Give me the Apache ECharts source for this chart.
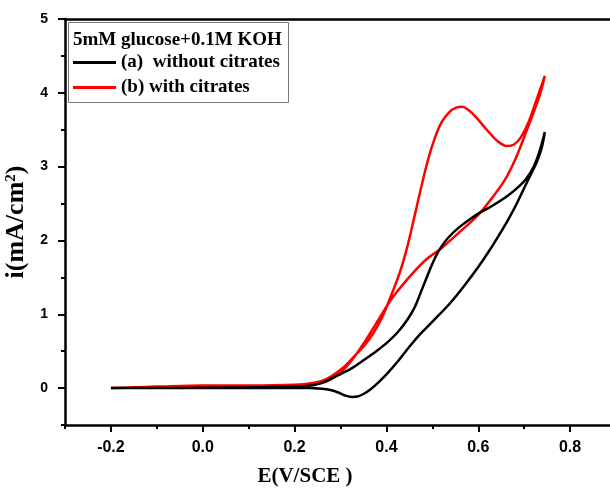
<!DOCTYPE html>
<html>
<head>
<meta charset="utf-8">
<script src="https://cdn.jsdelivr.net/npm/echarts@6/dist/echarts.min.js"></script>
<style>html,body{margin:0;padding:0;background:#fff}#c{width:610px;height:492px}</style>
</head>
<body>
<div id="c"></div>
<script>
// ---- data ----
const seriesNames = ['(a)  without citrates', '(b) with citrates'];
const legendTitle = '5mM glucose+0.1M KOH';

// (a) without citrates : forward scan then reverse scan
const blackE = [-0.2,-0.1,0.0,0.1,0.2,0.24,0.26,0.28,0.30,0.325,0.351,0.38,0.402,0.425,0.446,0.462,0.475,0.486,0.497,0.508,0.519,0.535,0.555,0.578,0.599,0.628,0.665,0.69,0.705,0.72,0.733,0.745,
  0.738,0.728,0.715,0.70,0.684,0.665,0.645,0.625,0.60,0.57,0.54,0.505,0.475,0.45,0.426,0.405,0.385,0.365,0.35,0.337,0.325,0.31,0.295,0.28,0.26,0.23,0.2,0.1,0.0,-0.1,-0.2];
const blackI = [0.0,0.0,0.005,0.01,0.02,0.04,0.07,0.13,0.19,0.27,0.38,0.51,0.62,0.76,0.93,1.1,1.3,1.47,1.64,1.79,1.91,2.04,2.16,2.27,2.36,2.46,2.61,2.74,2.84,2.99,3.2,3.47,
  3.25,3.07,2.9,2.71,2.5,2.28,2.07,1.87,1.64,1.39,1.16,0.93,0.74,0.56,0.37,0.22,0.09,-0.02,-0.08,-0.115,-0.12,-0.1,-0.06,-0.03,-0.01,0.0,0.0,0.0,0.0,0.0,0.0];

// (b) with citrates : forward scan then reverse scan
const redE = [-0.2,-0.15,-0.1,0.0,0.1,0.2,0.24,0.265,0.285,0.31,0.33,0.351,0.37,0.39,0.41,0.43,0.447,0.462,0.475,0.49,0.505,0.52,0.537,0.552,0.565,0.578,0.595,0.62,0.643,0.662,0.678,0.693,0.708,0.726,0.745,
  0.735,0.722,0.70,0.68,0.657,0.628,0.599,0.555,0.519,0.49,0.468,0.445,0.425,0.408,0.39,0.37,0.35,0.33,0.31,0.29,0.27,0.25,0.2,0.1,0.0,-0.1,-0.2];
const redI = [0.0,0.01,0.02,0.035,0.035,0.045,0.07,0.11,0.18,0.3,0.43,0.57,0.73,0.95,1.25,1.58,1.95,2.35,2.7,3.08,3.38,3.6,3.74,3.8,3.81,3.77,3.67,3.49,3.34,3.28,3.3,3.4,3.58,3.89,4.23,
  3.99,3.76,3.40,3.09,2.81,2.56,2.34,2.09,1.89,1.76,1.63,1.47,1.32,1.18,1.0,0.8,0.6,0.42,0.27,0.16,0.09,0.06,0.04,0.03,0.03,0.02,0.0];

// peak annotations
const annotE = [0.562, 0.586];
const annotI = [3.96, 2.54];
const annotText = ['A', 'B'];

// axes
const xMin = -0.3, xMax = 0.9;
const yMin = -0.5, yMax = 5;
const xMajorTicks = [-0.2, 0.0, 0.2, 0.4, 0.6, 0.8];
const xMinorTicks = [-0.3, -0.1, 0.1, 0.3, 0.5, 0.7, 0.9];
const yMajorTicks = [0, 1, 2, 3, 4, 5];
const yMinorTicks = [-0.5, 0.5, 1.5, 2.5, 3.5, 4.5];
const xAxisName = 'E(V/SCE )';

// ---- chart ----
const pairs = (xs, ys) => xs.map((x, i) => [x, ys[i]]);
const serif = 'Liberation Serif, Times New Roman, serif';
const sans = 'Liberation Sans, Arial, sans-serif';

const chart = echarts.init(document.getElementById('c'), null, {renderer: 'canvas'});
chart.setOption({
  animation: false,
  backgroundColor: '#fff',
  grid: {left: 65, right: -6, top: 19, bottom: 67, containLabel: false, outerBoundsMode: 'none'},
  title: {
    text: legendTitle, left: 73, top: 31, padding: 0,
    textStyle: {fontFamily: serif, fontWeight: 'bold', fontSize: 19, color: '#000'}
  },
  legend: {
    data: seriesNames, orient: 'vertical', left: 73, top: 53, padding: 0,
    itemGap: 6, itemWidth: 43, itemHeight: 3, icon: 'rect',
    textStyle: {fontFamily: serif, fontWeight: 'bold', fontSize: 19, color: '#000', lineHeight: 19}
  },
  graphic: [{
    type: 'rect', left: 68, top: 22, z: 3,
    shape: {width: 220, height: 80},
    style: {fill: '#fff', stroke: '#777', lineWidth: 1}
  }],
  xAxis: [{
    type: 'value', min: xMin, max: xMax, position: 'bottom',
    axisLine: {show: true, onZero: false, lineStyle: {color: '#000', width: 2.5}},
    axisTick: {show: true, customValues: xMajorTicks, length: 7, lineStyle: {color: '#000', width: 2}},
    axisLabel: {customValues: xMajorTicks, formatter: v => v.toFixed(1), fontFamily: sans, fontWeight: 'bold', fontSize: 16, color: '#000', margin: 15},
    splitLine: {show: false},
    name: xAxisName, nameLocation: 'middle', nameGap: 41,
    nameTextStyle: {fontFamily: serif, fontWeight: 'bold', fontSize: 21, color: '#000', padding: [0, 71, 0, 0]}
  }, {
    type: 'value', min: xMin, max: xMax, position: 'bottom',
    axisLine: {show: false, onZero: false},
    axisTick: {show: true, customValues: xMinorTicks, length: 4, lineStyle: {color: '#000', width: 2}},
    axisLabel: {show: false}, splitLine: {show: false}
  }, {
    type: 'value', min: xMin, max: xMax, position: 'top',
    axisLine: {show: true, onZero: false, lineStyle: {color: '#000', width: 2.5}},
    axisTick: {show: false}, axisLabel: {show: false}, splitLine: {show: false}
  }],
  yAxis: [{
    type: 'value', min: yMin, max: yMax, position: 'left',
    axisLine: {show: true, onZero: false, lineStyle: {color: '#000', width: 2.5}},
    axisTick: {show: true, customValues: yMajorTicks, length: 7, lineStyle: {color: '#000', width: 2}},
    axisLabel: {customValues: yMajorTicks, fontFamily: sans, fontWeight: 'bold', fontSize: 14, color: '#000', margin: 17},
    splitLine: {show: false},
    name: '{b|i(mA/cm}{s|2}{b|)}', nameLocation: 'middle', nameGap: 29,
    nameTextStyle: {
      rich: {
        b: {fontFamily: serif, fontWeight: 'bold', fontSize: 26, color: '#000'},
        s: {fontFamily: serif, fontWeight: 'bold', fontSize: 15, color: '#000', verticalAlign: 'top'}
      }
    }
  }, {
    type: 'value', min: yMin, max: yMax, position: 'left',
    axisLine: {show: false, onZero: false},
    axisTick: {show: true, customValues: yMinorTicks, length: 4, lineStyle: {color: '#000', width: 2}},
    axisLabel: {show: false}, splitLine: {show: false}
  }],
  series: [{
    name: seriesNames[0], type: 'line', data: pairs(blackE, blackI),
    showSymbol: false, symbol: 'none', smooth: 0.35, z: 3,
    lineStyle: {color: '#000', width: 2.5}, itemStyle: {color: '#000'}
  }, {
    name: seriesNames[1], type: 'line', data: pairs(redE, redI),
    showSymbol: false, symbol: 'none', smooth: 0.35, z: 2,
    lineStyle: {color: '#ff0000', width: 2.5}, itemStyle: {color: '#ff0000'}
  }, {
    name: 'annotations', type: 'scatter', silent: true,
    data: annotE.map((x, i) => [x, annotI[i], annotText[i]]),
    symbolSize: 1, itemStyle: {opacity: 0},
    label: {show: true, position: 'inside', formatter: p => p.data[2],
      fontFamily: serif, fontWeight: 'bold', fontSize: 21, color: '#000'}
  }]
});
</script>
</body>
</html>
